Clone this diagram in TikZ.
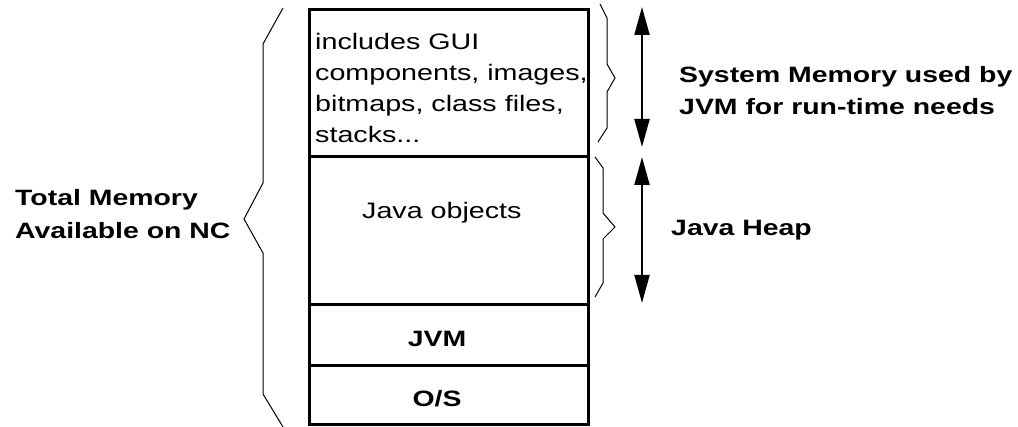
\documentclass[tikz,border=0pt]{standalone}
\usepackage{fontspec}
\setmainfont{Liberation Sans}[FakeStretch=1.28]
\usetikzlibrary{arrows.meta}
\tikzset{
  part/.style={draw, line width=3pt, inner sep=0pt, outer sep=0pt, minimum width=279pt},
  txt/.style={inner sep=0pt, anchor=base west, align=left, font=\fontsize{22.4}{31.3}\selectfont},
  btxt/.style={txt, font=\fontsize{22.2}{32.5}\selectfont\bfseries},
  brace/.style={line width=1pt, line join=miter},
  span/.style={line width=2pt, {Triangle[length=28pt,width=15pt]}-{Triangle[length=28pt,width=15pt]}}
}
\begin{document}
\begin{tikzpicture}[x=1pt, y=-1pt]
\useasboundingbox (0,0) rectangle (1018,427);

% memory stack
\node[part, minimum height=147pt] (sys)  at (448.5,83.5) {};
\node[part, minimum height=148pt] (heap) at (448.5,231)  {};
\node[part, minimum height=61pt]  (jvm)  at (448.5,335.5) {};
\node[part, minimum height=59pt]  (os)   at (448.5,395.5) {};

% multi-line texts are placed by the baseline of their last line
\node[txt] (systext) at (315,143) {includes GUI\\components, images,\\bitmaps, class files,\\stacks...};
\node[txt] (heaptext) at (362,219) {Java objects};
\node[btxt, anchor=base] (jvmtext) at (437,347) {JVM};
\node[btxt, anchor=base] (ostext) at (437,407) {O/S};

% left brace: whole memory
\coordinate (lb1) at (283,8);
\coordinate (lb2) at (263,44);
\coordinate (lb3) at (263,183);
\coordinate (lbtip) at (244,219);
\coordinate (lb4) at (263,253);
\coordinate (lb5) at (263,394);
\coordinate (lb6) at (283,427);
\draw[brace] (lb1) -- (lb2) -- (lb3) -- (lbtip) -- (lb4) -- (lb5) -- (lb6);
\node[btxt, font=\fontsize{22.2}{33}\selectfont\bfseries] (total) at (15,239) {Total Memory\\Available on NC};

% right braces
\coordinate (ua1) at (600,4);
\coordinate (ua2) at (607,18);
\coordinate (ua3) at (607,64);
\coordinate (uatip) at (615,78);
\coordinate (ua4) at (607,92);
\coordinate (ua5) at (607,128);
\coordinate (ua6) at (598,142);
\draw[brace] (ua1) -- (ua2) -- (ua3) -- (uatip) -- (ua4) -- (ua5) -- (ua6);

\coordinate (la1) at (595,157);
\coordinate (la2) at (603,168);
\coordinate (la3) at (603,213);
\coordinate (latip) at (615,227);
\coordinate (la4) at (603,239);
\coordinate (la5) at (603,283);
\coordinate (la6) at (595,297);
\draw[brace] (la1) -- (la2) -- (la3) -- (latip) -- (la4) -- (la5) -- (la6);

% extent arrows
\coordinate (sa) at (642,7);
\coordinate (sb) at (642,147);
\coordinate (ha) at (642,157);
\coordinate (hb) at (642,303);
\draw[span] (sa) -- (sb);
\draw[span] (ha) -- (hb);

\node[btxt] (syslabel) at (679,115) {System Memory used by\\JVM for run-time needs};
\node[btxt] (heaplabel) at (671,236) {Java Heap};
\end{tikzpicture}
\end{document}
